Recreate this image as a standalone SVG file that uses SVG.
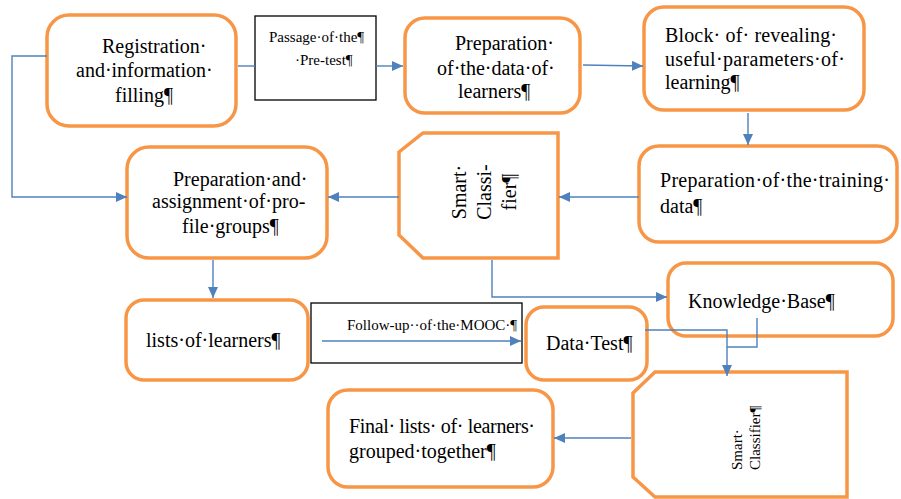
<svg xmlns="http://www.w3.org/2000/svg" width="901" height="499" viewBox="0 0 901 499">
<defs>
<style>
.n{fill:#fff;stroke:#F79646;stroke-width:3.5}
.b{fill:#fff;stroke:#000;stroke-width:1.3}
.c{fill:none;stroke:#4F81BD;stroke-width:1.4}
text{font-family:"Liberation Serif","Times New Roman",serif;fill:#000}
.t{font-size:20px}
.s{font-size:15px}
</style>
<marker id="ar" markerWidth="12" markerHeight="10" refX="11" refY="5" orient="auto" markerUnits="userSpaceOnUse">
<path d="M0,0 L11,5 L0,10 Z" fill="#4F81BD"/>
</marker>
</defs>
<rect width="901" height="499" fill="#fff"/>
<g id="registration">
<rect class="n" x="47" y="15" width="189" height="111" rx="22"/>
<text class="t" x="102" y="53">Registration·</text>
<text class="t" x="76" y="77">and·information·</text>
<text class="t" x="115" y="102">filling¶</text>
</g>
<g id="pretest">
<rect class="b" x="255" y="16" width="121" height="84"/>
<text class="s" x="269" y="42">Passage·of·the¶</text>
<text class="s" x="295" y="65">·Pre-test¶</text>
</g>
<g id="prepdata">
<rect class="n" x="405" y="18" width="175" height="95" rx="20"/>
<text class="t" x="455" y="50">Preparation·</text>
<text class="t" x="437" y="75">of·the·data·of·</text>
<text class="t" x="458" y="98">learners¶</text>
</g>
<g id="block">
<rect class="n" x="644" y="7" width="220" height="103" rx="20"/>
<text class="t" x="665" y="42" textLength="172" lengthAdjust="spacing">Block· of· revealing·</text>
<text class="t" x="665" y="66" textLength="180" lengthAdjust="spacing">useful·parameters·of·</text>
<text class="t" x="665" y="89">learning¶</text>
</g>
<g id="training">
<rect class="n" x="639" y="146" width="258" height="96" rx="20"/>
<text class="t" x="660" y="187" textLength="230" lengthAdjust="spacing">Preparation·of·the·training·</text>
<text class="t" x="660" y="213">data¶</text>
</g>
<g id="classifier1">
<polygon class="n" points="423,133 558,133 558,258 423,258 399,235 399,152"/>
<g transform="translate(0,192) rotate(-90)">
<text class="t" x="0" y="466" text-anchor="middle">Smart·</text>
<text class="t" x="0" y="491" text-anchor="middle">Classi-</text>
<text class="t" x="0" y="516" text-anchor="middle">fier¶</text>
</g>
</g>
<g id="profilegroups">
<rect class="n" x="127" y="147" width="200" height="111" rx="22"/>
<text class="t" x="173" y="186">Preparation·and·</text>
<text class="t" x="152" y="208">assignment·of·pro-</text>
<text class="t" x="182" y="233">file·groups¶</text>
</g>
<g id="lists">
<rect class="n" x="126" y="300" width="182" height="80" rx="18"/>
<text class="t" x="146" y="347">lists·of·learners¶</text>
</g>
<g id="followup">
<rect class="b" x="311" y="303" width="211" height="60"/>
<text class="s" x="347" y="330">Follow-up··of·the·MOOC·¶</text>
</g>
<g id="datatest">
<rect class="n" x="526" y="307" width="121" height="73" rx="18"/>
<text class="t" x="546" y="350">Data·Test¶</text>
</g>
<g id="knowledge">
<rect class="n" x="668" y="263" width="225" height="73" rx="18"/>
<text class="t" x="688" y="308">Knowledge·Base¶</text>
</g>
<g id="classifier2">
<polygon class="n" points="655,372 847,372 847,497 655,497 633,477 633,393"/>
<g transform="translate(0,470) rotate(-90)">
<text class="s" x="0" y="742">Smart·</text>
<text class="s" x="0" y="760">Classifier¶</text>
</g>
</g>
<g id="final">
<rect class="n" x="328" y="390" width="225" height="97" rx="20"/>
<text class="t" x="349" y="433" textLength="186" lengthAdjust="spacing">Final· lists· of· learners·</text>
<text class="t" x="349" y="458">grouped·together¶</text>
</g>
<g id="connectors">
<path class="c" d="M238,66 H255"/>
<path class="c" d="M376,66 H403" marker-end="url(#ar)"/>
<path class="c" d="M47,56 H12 V197 H127" marker-end="url(#ar)"/>
<path class="c" d="M583,65 L643,66" marker-end="url(#ar)"/>
<path class="c" d="M748,113 V145" marker-end="url(#ar)"/>
<path class="c" d="M639,197 H559" marker-end="url(#ar)"/>
<path class="c" d="M399,197 H328" marker-end="url(#ar)"/>
<path class="c" d="M213,260 V298" marker-end="url(#ar)"/>
<path class="c" d="M492,260 V297 H667" marker-end="url(#ar)"/>
<path class="c" d="M322,341 H521" marker-end="url(#ar)"/>
<path class="c" d="M645,330 H727 V376" marker-end="url(#ar)"/>
<path class="c" d="M757,318 V347 H727"/>
<path class="c" d="M631,438 H554" marker-end="url(#ar)"/>
</g>
</svg>
